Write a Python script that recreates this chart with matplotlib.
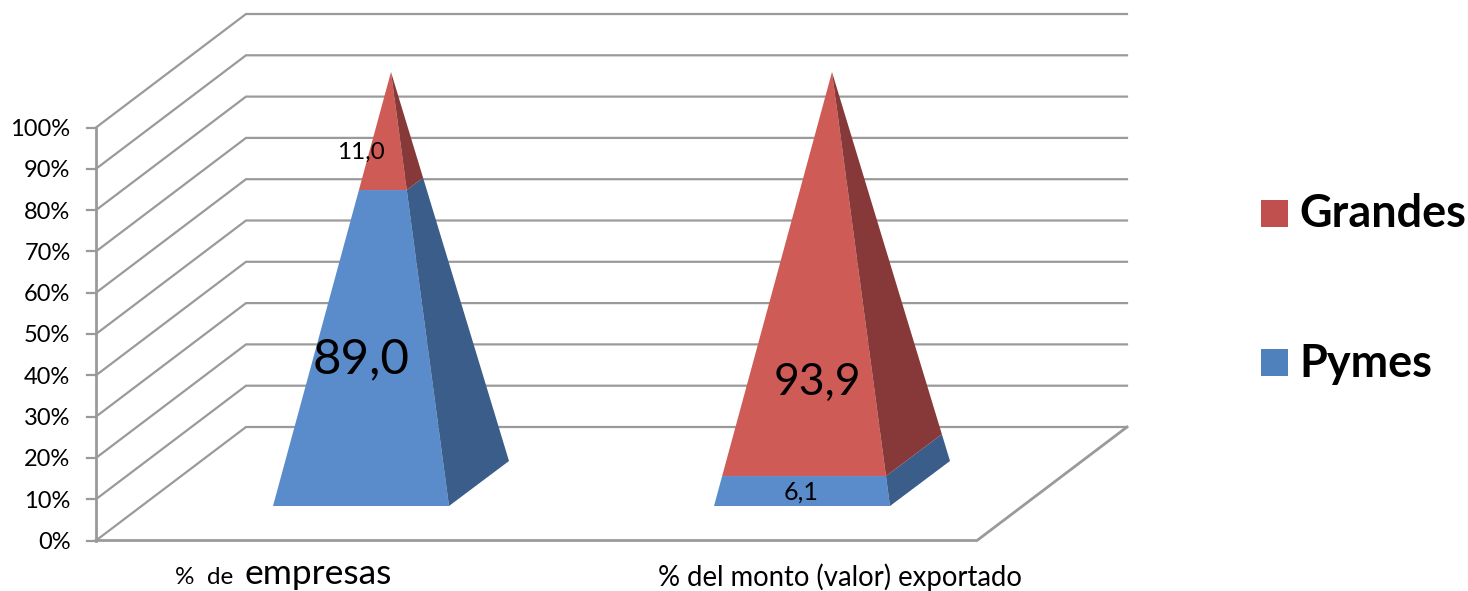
import numpy as np
import matplotlib
matplotlib.use('Agg')
import matplotlib.pyplot as plt
from matplotlib.patches import Polygon, Rectangle

plt.rcParams['font.family'] = ['Lato', 'DejaVu Sans']

# Data
categories = ['% del monto (valor) exportado']
pymes = [89.0, 6.1]
grandes = [11.0, 93.9]
ticks = [0, 10, 20, 30, 40, 50, 60, 70, 80, 90, 100]

# Colours
blue = '#5A8BCB'
blue_side = '#3A5D8A'
red = '#CE5B56'
red_side = '#873838'
grid = '#9A9A9A'

# Figure in pixel coordinates
fig = plt.figure(figsize=(14.68, 5.91), dpi=100)
ax = fig.add_axes([0, 0, 1, 1])
ax.set_xlim(0, 1468)
ax.set_ylim(591, 0)
ax.axis('off')

# Chart frame: front wall x, back wall x, floor levels
x_front, x_back, x_end = 96, 246, 1127
y0_front, y0_back = 540.5, 427
pct_px = 4.13


def front_y(p):
    return y0_front - pct_px * p


def back_y(p):
    return y0_back - pct_px * p


# Gridlines and ticks
for p in ticks:
    ax.plot([x_front, x_back, x_end], [front_y(p), back_y(p), back_y(p)],
            color=grid, lw=1.6, solid_joinstyle='miter', zorder=1)
    ax.plot([x_front - 9, x_front], [front_y(p), front_y(p)], color=grid, lw=1.6, zorder=1)
    ax.text(70.5, front_y(p) + 2, f'{p}%', ha='right', va='center', fontsize=17, color='black')

ax.plot([x_front, x_front], [front_y(0), front_y(100)], color=grid, lw=2, zorder=1)
ax.plot([x_front, 977, x_end], [y0_front, y0_front, y0_back], color=grid, lw=2,
        solid_joinstyle='miter', zorder=1)


# Perspective of the drawn pyramid: share of the height -> share along the edge
def edge_share(p):
    return np.interp(p, [0, 6.1, 89, 100], [0, 0.069, 0.728, 1])


def to_apex(pt, apex, p):
    t = edge_share(p)
    return (pt[0] + (apex[0] - pt[0]) * t, pt[1] + (apex[1] - pt[1]) * t)


def pyramid(left, low, high, face, side):
    # left is the front left corner of the base
    a = (left, 506)
    b = (left + 176, 506)
    c = (left + 236, 461)
    apex = (left + 118, 72)
    front = [to_apex(a, apex, low), to_apex(b, apex, low), to_apex(b, apex, high), to_apex(a, apex, high)]
    right = [to_apex(b, apex, low), to_apex(c, apex, low), to_apex(c, apex, high), to_apex(b, apex, high)]
    ax.add_patch(Polygon(front, closed=True, fc=face, ec='none', zorder=3))
    ax.add_patch(Polygon(right, closed=True, fc=side, ec='none', zorder=3))


lefts = [273, 714]
for i in range(2):
    pyramid(lefts[i], 0, pymes[i], blue, blue_side)
    pyramid(lefts[i], pymes[i], 100, red, red_side)

# Data labels
ax.text(361, 152, '11,0', ha='center', va='center', fontsize=17.5, zorder=4)
ax.text(361, 359, '89,0', ha='center', va='center', fontsize=35.5, zorder=4)
ax.text(801.5, 492, '6,1', ha='center', va='center', fontsize=18, zorder=4)
ax.text(817, 382, '93,9', ha='center', va='center', fontsize=32, zorder=4)

# Category labels
ax.text(175, 577, '%  de', ha='left', va='center', fontsize=17.5)
ax.text(245, 574, 'empresas', ha='left', va='center', fontsize=25.5)
ax.text(840, 577, categories[0], ha='center', va='center', fontsize=19.8)

# Legend
ax.add_patch(Rectangle((1261, 200), 27, 27, fc='#C0504D', ec='none'))
ax.add_patch(Rectangle((1261, 349), 27, 27, fc='#4F81BD', ec='none'))
ax.text(1299, 214, 'Grandes', ha='left', va='center', fontsize=32.4, fontweight='bold')
ax.text(1299, 364, 'Pymes', ha='left', va='center', fontsize=32.4, fontweight='bold')

fig.savefig('out.png', dpi=100)
